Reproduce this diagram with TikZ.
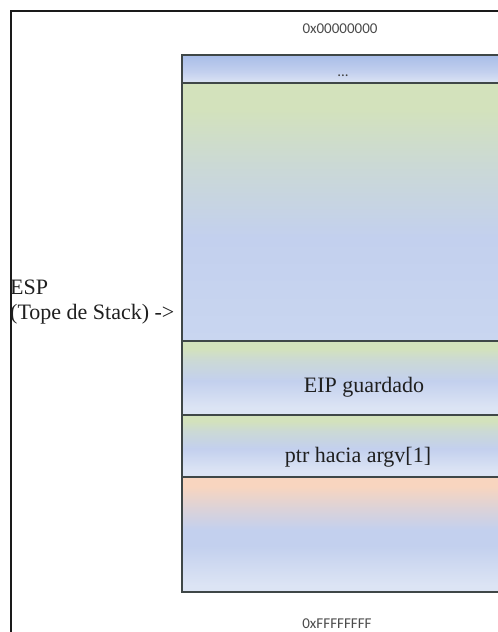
\documentclass[tikz,border=0pt]{standalone}
\usepackage{fontspec}
\setmainfont{Liberation Serif}
\newfontfamily\addrfont{Carlito}
\definecolor{cellline}{HTML}{3F4747}
\definecolor{framecol}{HTML}{1A1A1A}
\definecolor{addrgray}{HTML}{4A4A4A}
\definecolor{blueA}{HTML}{A8BDE8}
\definecolor{blueM}{HTML}{C3D0EE}
\definecolor{blueB}{HTML}{C9D6F0}
\definecolor{blueL}{HTML}{DCE4F4}
\definecolor{greenT}{HTML}{D3E2BC}
\definecolor{peachT}{HTML}{F8D5BF}
% vertical shadings: the cell spans 25bp (bottom) to 75bp (top)
\pgfdeclareverticalshading{dotsfill}{100bp}{color(0bp)=(blueL); color(25bp)=(blueL);
  color(45bp)=(blueM); color(75bp)=(blueA); color(100bp)=(blueA)}
\pgfdeclareverticalshading{freefill}{100bp}{color(0bp)=(blueB); color(25bp)=(blueB);
  color(45bp)=(blueM); color(58bp)=(greenT!45!blueM); color(70bp)=(greenT); color(100bp)=(greenT)}
\pgfdeclareverticalshading{slotfill}{100bp}{color(0bp)=(blueL); color(30bp)=(blueL);
  color(48bp)=(blueM); color(62bp)=(greenT!50!blueM); color(70bp)=(greenT); color(100bp)=(greenT)}
\pgfdeclareverticalshading{argsfill}{100bp}{color(0bp)=(blueL); color(28bp)=(blueL);
  color(45bp)=(blueM); color(52bp)=(blueM); color(62bp)=(peachT!50!blueM); color(71bp)=(peachT); color(100bp)=(peachT)}
\begin{document}
\begin{tikzpicture}[x=1pt,y=-1pt,
  cell/.style={draw=cellline, line width=1.3pt, minimum width=318pt,
    inner sep=0pt, outer sep=0pt, anchor=north west},
  addr/.style={font=\addrfont\fontsize{15}{18}\selectfont, text=addrgray,
    anchor=base, inner sep=0pt},
  celltext/.style={font=\fontsize{22}{25}\selectfont, text=black!88,
    anchor=base, inner sep=0pt}]
\useasboundingbox (0,0) rectangle (498,632);
\clip (0,0) rectangle (498,632);

% outer frame (left and top edges)
\draw[framecol, line width=1.5pt] (11,640) -- (11,11) -- (505,11);

% stack cells, top (low addresses) to bottom (high addresses)
\node[cell, minimum height=28pt, shading=dotsfill] (dots) at (182,55) {};
\node[cell, minimum height=258pt, shading=freefill] (free) at (182,83) {};
\node[cell, minimum height=74pt, shading=slotfill] (eip) at (182,341) {};
\node[cell, minimum height=62pt, shading=slotfill] (ptr) at (182,415) {};
\node[cell, minimum height=115pt, shading=argsfill] (args) at (182,477) {};

% cell texts
\node[addr, text=black!75] (dotstext) at (343,76) {...};
\node[celltext] (eiptext) at (364,392) {EIP guardado};
\node[celltext] (ptrtext) at (358,462) {ptr hacia argv[1]};

% address labels
\node[addr] (lowaddr) at (340,33) {0x00000000};
\node[addr] (highaddr) at (337,628) {0xFFFFFFFF};

% stack pointer label
\node[font=\fontsize{22}{25}\selectfont, text=black!88, align=left,
  anchor=base west, inner sep=0pt] (esp) at (10,319) {ESP\\(Tope de Stack) ->};
\end{tikzpicture}
\end{document}
